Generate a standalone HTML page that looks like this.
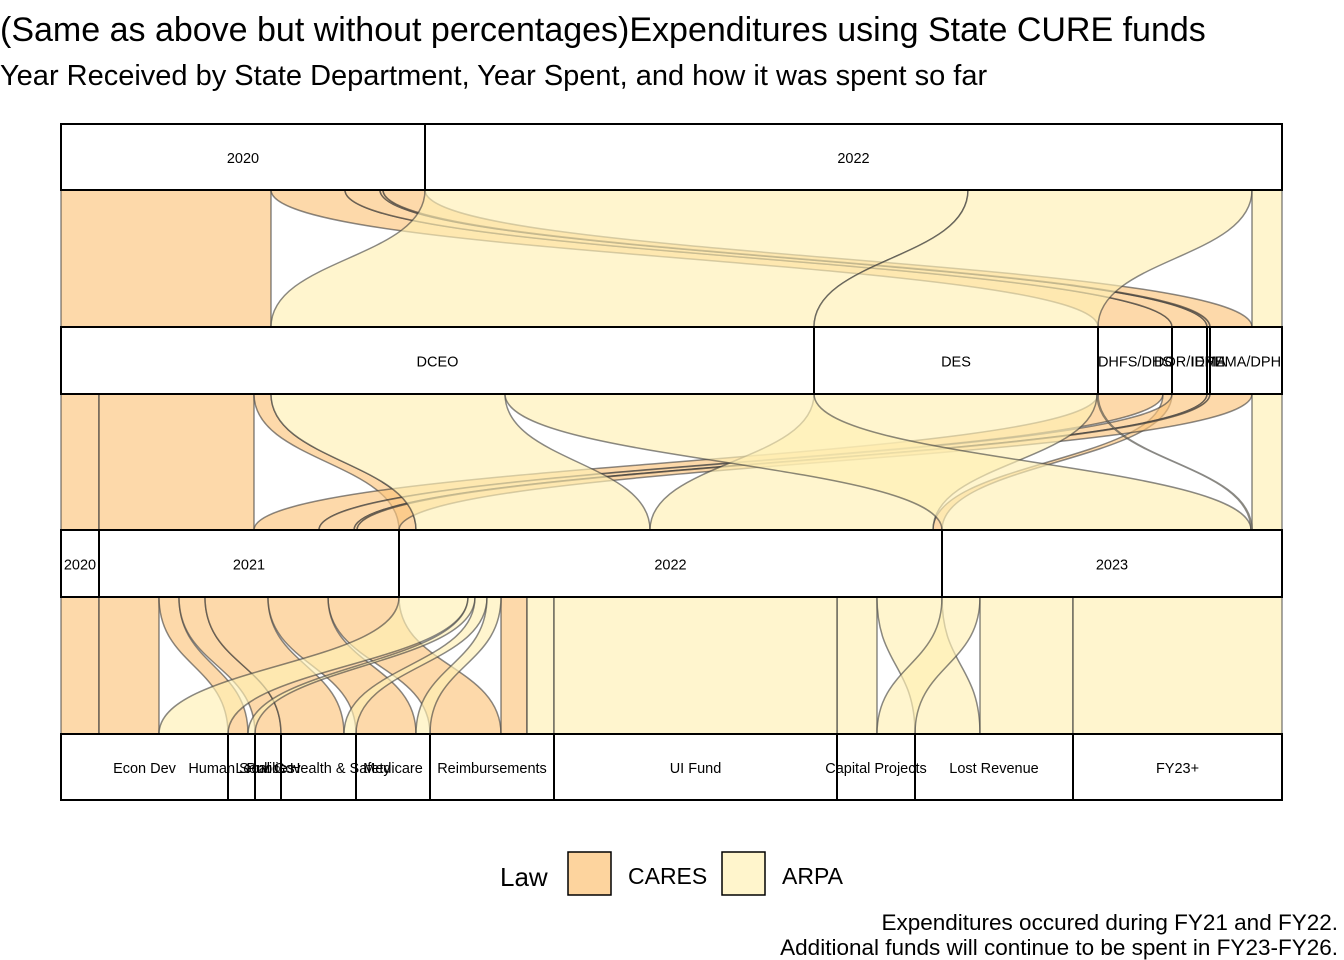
<!DOCTYPE html>
<html><head><meta charset="utf-8"><style>
body{margin:0;background:#fff;}
svg{display:block;font-family:"Liberation Sans",sans-serif;}
</style></head><body>
<svg id="chart" width="1344" height="960">
<text x="0" y="41" font-size="34">(Same as above but without percentages)Expenditures using State CURE funds</text>
<text x="0" y="85" font-size="29">Year Received by State Department, Year Spent, and how it was spent so far</text>
<g id="flows"></g>
<g id="strata"></g>
<g>
<text x="500" y="886" font-size="26">Law</text>
<rect x="568" y="852" width="43" height="43" fill="#FDD49E" stroke="#000" stroke-width="1.5"/>
<text x="628" y="884" font-size="23">CARES</text>
<rect x="722" y="852" width="43" height="43" fill="#FFF5CC" stroke="#000" stroke-width="1.5"/>
<text x="782" y="884" font-size="23">ARPA</text>
</g>
<text x="1338" y="930" font-size="22.5" text-anchor="end">Expenditures occured during FY21 and FY22.</text>
<text x="1338" y="955" font-size="22.5" text-anchor="end">Additional funds will continue to be spent in FY23-FY26.</text>
</svg>
<script>
const laws = ["CARES","ARPA"];
const axisYears = ["2020","2022"];
const depts = ["DCEO","DES","DHFS/DHS","DOR/IDPH","IEMA","IEMA/DPH"];
const spentYears = ["2020","2021","2022","2023"];
const categories = ["Econ Dev","Human Services","Local Gov","Public Health & Safety","Medicare","Reimbursements","UI Fund","Capital Projects","Lost Revenue","FY23+"];
const alluviaLaw = ["CARES","CARES","CARES","CARES","CARES","CARES","CARES","CARES","CARES","CARES","CARES","CARES","CARES","CARES","CARES","CARES",
 "ARPA","ARPA","ARPA","ARPA","ARPA","ARPA","ARPA","ARPA","ARPA","ARPA","ARPA","ARPA","ARPA","ARPA"];
const alluviaRecv = ["2020","2020","2020","2020","2020","2020","2020","2020","2020","2020","2020","2020","2020","2020","2020","2020",
 "2022","2022","2022","2022","2022","2022","2022","2022","2022","2022","2022","2022","2022","2022"];
const alluviaDept = ["DCEO","DCEO","DCEO","DCEO","DCEO","DCEO","DCEO","DHFS/DHS","DHFS/DHS","DHFS/DHS","DOR/IDPH","DOR/IDPH","IEMA","IEMA/DPH","IEMA/DPH","DCEO",
 "DCEO","DCEO","DCEO","DCEO","DCEO","DCEO","DCEO","DES","DCEO","DCEO","DCEO","IEMA/DPH","DES","DCEO"];
const alluviaSpent = ["2020","2021","2021","2021","2021","2021","2022","2021","2021","2022","2021","2021","2021","2021","2021","2021",
 "2022","2022","2022","2022","2022","2022","2022","2022","2023","2023","2023","2023","2023","2022"];
const alluviaCat = ["Econ Dev","Econ Dev","Human Services","Local Gov","Public Health & Safety","Reimbursements","Reimbursements","Medicare","Human Services","Reimbursements","Local Gov","Reimbursements","Public Health & Safety","Public Health & Safety","Reimbursements","Econ Dev",
 "Econ Dev","Human Services","Public Health & Safety","Medicare","Reimbursements","Capital Projects","Lost Revenue","UI Fund","Capital Projects","Lost Revenue","FY23+","FY23+","FY23+","Lost Revenue"];
const alluviaValue = [38,60,15,10,30,40,17,60,5,9,16,19,3,30,12,0,
 69,7,12,14,27,40,65,283,38,93,178,30,1,0];

const svg = document.getElementById('chart');
const NS = "http://www.w3.org/2000/svg";
const X0 = 61, X1 = 1282;
const boxes = [[124,190],[327,394],[530,597],[734,800]];
const axesLevels = [axisYears, depts, spentYears, categories];
const axesCols = [alluviaRecv, alluviaDept, alluviaSpent, alluviaCat];
const axisNames = ["year-received","department","year-spent","spending-category"];
const fills = {CARES:"rgba(252,196,124,0.65)", ARPA:"rgba(255,240,180,0.65)"};
const N = alluviaValue.length;
const total = alluviaValue.reduce((a,b)=>a+b,0);
const sx = v => v/total*(X1-X0);

const strata = axesLevels.map((levels,ai)=>{
  let acc = X0; const res = {};
  levels.forEach(l=>{
    let s=0; for(let i=0;i<N;i++) if(axesCols[ai][i]===l) s+=alluviaValue[i];
    res[l]=[acc, acc+sx(s)]; acc+=sx(s);
  });
  return res;
});

const flowG = document.getElementById('flows');
for(let a=0;a<3;a++){
  const A=axesCols[a], B=axesCols[a+1], LA=axesLevels[a], LB=axesLevels[a+1];
  const groups={};
  for(let i=0;i<N;i++){
    if(alluviaValue[i]<=0) continue;
    const k=A[i]+"|"+B[i]+"|"+alluviaLaw[i];
    if(!groups[k]) groups[k]={s:A[i],t:B[i],law:alluviaLaw[i],v:0};
    groups[k].v+=alluviaValue[i];
  }
  const gl=Object.values(groups);
  const li=l=>laws.indexOf(l);
  const srcOff={}, tgtOff={};
  const bySrc=[...gl].sort((p,q)=>LA.indexOf(p.s)-LA.indexOf(q.s)||LB.indexOf(p.t)-LB.indexOf(q.t)||li(p.law)-li(q.law));
  bySrc.forEach(g=>{ if(srcOff[g.s]===undefined) srcOff[g.s]=strata[a][g.s][0]; g.x0=srcOff[g.s]; srcOff[g.s]+=sx(g.v); g.x1=srcOff[g.s]; });
  const byTgt=[...gl].sort((p,q)=>LB.indexOf(p.t)-LB.indexOf(q.t)||LA.indexOf(p.s)-LA.indexOf(q.s)||li(p.law)-li(q.law));
  byTgt.forEach(g=>{ if(tgtOff[g.t]===undefined) tgtOff[g.t]=strata[a+1][g.t][0]; g.u0=tgtOff[g.t]; tgtOff[g.t]+=sx(g.v); g.u1=tgtOff[g.t]; });
  const y0=boxes[a][1], y1=boxes[a+1][0], ym=(y0+y1)/2;
  gl.forEach(g=>{
    const p=document.createElementNS(NS,'path');
    p.setAttribute('d',`M${g.x0},${y0} C${g.x0},${ym} ${g.u0},${ym} ${g.u0},${y1} L${g.u1},${y1} C${g.u1},${ym} ${g.x1},${ym} ${g.x1},${y0} Z`);
    p.setAttribute('fill',fills[g.law]);
    p.setAttribute('stroke','rgba(60,60,60,0.6)');
    p.setAttribute('stroke-width','1.5');
    
    
    flowG.appendChild(p);
  });
}

const stG=document.getElementById('strata');
axesLevels.forEach((levels,ai)=>{
  levels.forEach(l=>{
    const [xa,xb]=strata[ai][l]; if(xb-xa<=0) return;
    const r=document.createElementNS(NS,'rect');
    r.setAttribute('x',xa); r.setAttribute('y',boxes[ai][0]);
    r.setAttribute('width',xb-xa); r.setAttribute('height',boxes[ai][1]-boxes[ai][0]);
    r.setAttribute('fill','#fff'); r.setAttribute('stroke','#000'); r.setAttribute('stroke-width','2');
    
    
    stG.appendChild(r);
  });
  levels.forEach(l=>{
    const [xa,xb]=strata[ai][l]; if(xb-xa<=0) return;
    const t=document.createElementNS(NS,'text');
    t.setAttribute('x',(xa+xb)/2); t.setAttribute('y',(boxes[ai][0]+boxes[ai][1])/2+6);
    t.setAttribute('text-anchor','middle'); t.setAttribute('font-size','14.5');
    t.textContent=l;
    
    
    stG.appendChild(t);
  });
});
</script>
</body></html>
